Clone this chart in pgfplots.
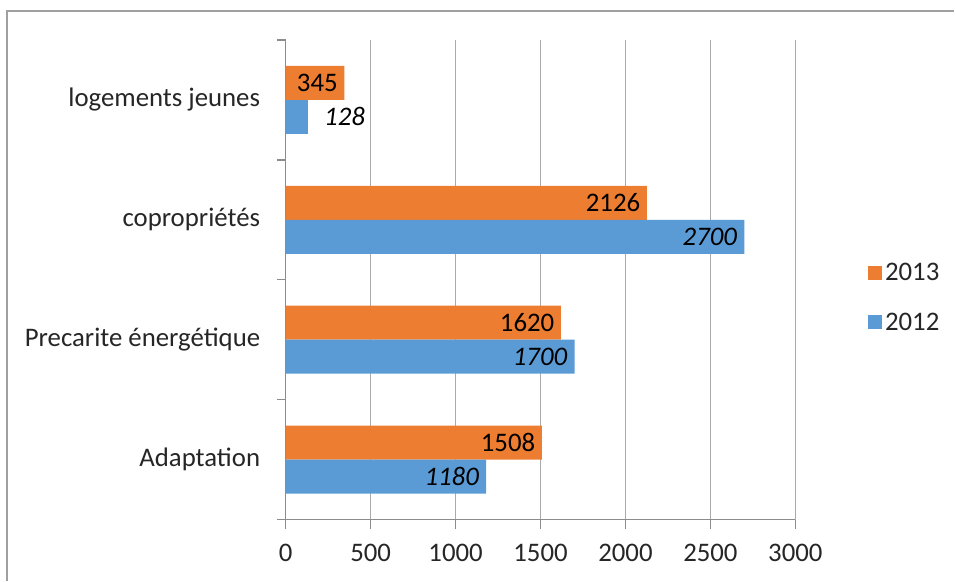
\documentclass[border=0pt]{standalone}
\usepackage{pgfplots}
\pgfplotsset{compat=1.18}
\usepackage{fontspec}
\setmainfont{Carlito}
\definecolor{orange13}{RGB}{237,125,49}
\definecolor{blue12}{RGB}{91,155,213}
\definecolor{gridgray}{RGB}{170,170,170}
\definecolor{axisgray}{RGB}{140,140,140}
\definecolor{framegray}{RGB}{160,160,160}
\newcommand\chartfont{\fontsize{20.1}{24}\selectfont}
\begin{document}
\begin{tikzpicture}
% page extent and chart frame
\path (0,0) rectangle (716.25pt,-435.75pt);
\draw[framegray, line width=1.2pt] (5.25pt,-435.75pt) -- (5.25pt,-8.25pt) -- (716.25pt,-8.25pt);
\begin{axis}[
  at={(214.5pt,-390pt)}, anchor=south west,
  width=382.5pt, height=360pt, scale only axis,
  xbar, bar width=25.5pt,
  xmin=0, xmax=3000, ymin=-0.5, ymax=3.5,
  xtick={0,500,...,3000},
  xmajorgrids, grid style={gridgray, line width=1pt},
  ytick={0,1,2,3},
  yticklabels={Adaptation, Precarite énergétique, copropriétés, logements jeunes},
  minor ytick={-0.5,0.5,1.5,2.5,3.5},
  axis x line*=bottom, axis y line*=left,
  axis line style={axisgray, line width=1pt, -},
  tick align=outside,
  major tick length=6.75pt, minor tick length=6.75pt,
  major x tick style={axisgray, line width=1pt},
  major y tick style={draw=none},
  minor y tick style={axisgray, line width=1pt},
  /pgf/number format/1000 sep={},
  /pgf/number format/assume math mode=true,
  tick label style={font=\chartfont, text=black!85},
  yticklabel style={xshift=-9pt},
  xticklabel style={yshift=-8pt},
  legend style={at={(1.135,0.4625)}, anchor=west, draw=none, fill=none,
    font=\chartfont, text=black!85, row sep=18.5pt,
    /tikz/every even column/.append style={column sep=7.5pt}},
  legend image code/.code={\fill[#1] (0pt,-5.25pt) rectangle (10.5pt,5.25pt);},
  legend cell align=left,
  nodes near coords,
  nodes near coords align={horizontal},
]
% 2013
\addplot[draw=none, fill=orange13, bar shift=12.75pt,
  every node near coord/.append style={anchor=east, xshift=-1.5pt, text=black, font=\chartfont}]
  coordinates {(1508,0) (1620,1) (2126,2) (345,3)};
\addlegendentry{2013}
% 2012
\addplot[draw=none, fill=blue12, bar shift=-12.75pt,
  every node near coord/.append style={anchor=east, xshift=-2pt, text=black, font=\chartfont\itshape}]
  coordinates {(1180,0) (1700,1) (2700,2)};
\addlegendentry{2012}
% short 2012 bar, label set beyond the bar end
\addplot[forget plot, draw=none, fill=blue12, bar shift=-12.75pt,
  every node near coord/.append style={anchor=west, xshift=9pt, text=black, font=\chartfont\itshape}]
  coordinates {(128,3)};
\end{axis}
\end{tikzpicture}
\end{document}
